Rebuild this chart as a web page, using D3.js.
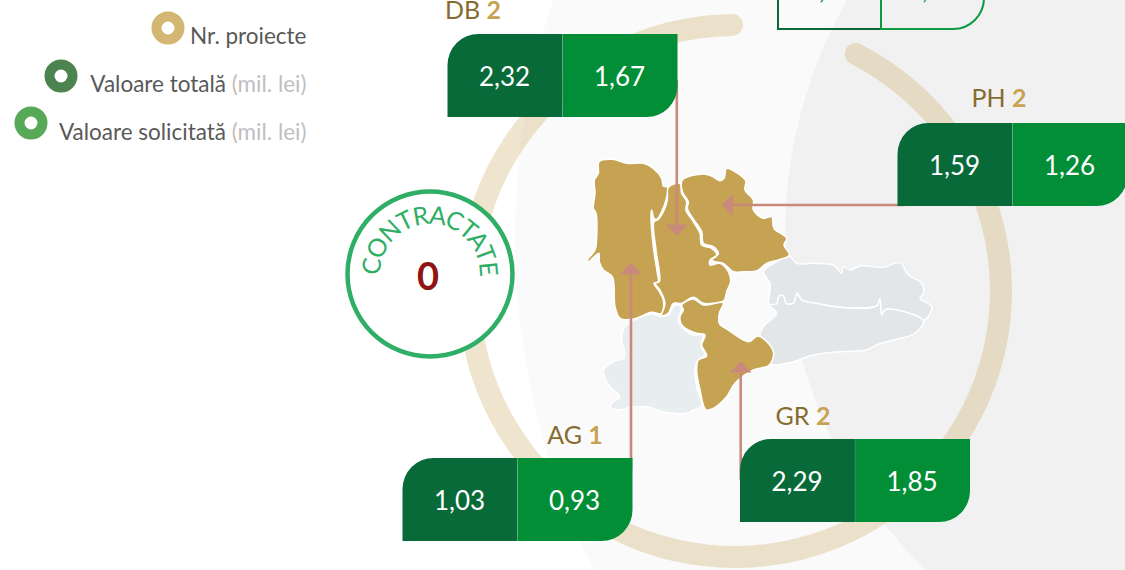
<!DOCTYPE html>
<html>
<head>
<meta charset="utf-8">
<script src="https://cdn.jsdelivr.net/npm/d3@7"></script>
<style>
  html, body { margin: 0; padding: 0; background: #fff; overflow: hidden; }
  text { font-family: Lato, "Open Sans", sans-serif; }
</style>
</head>
<body>
<div id="chart"></div>
<script>
// ************ Data ************
var counties = ['DB', 'PH', 'GR', 'AG'];
var nrProiecte = [2, 2, 2, 1];
var valoareTotala = [2.32, 1.59, 2.29, 1.03];
var valoareSolicitata = [1.67, 1.26, 1.85, 0.93];
var contractate = 0;

// the fifth box sits mostly above the picture, only its bottom edge is visible
var cutTotal = [4.17];
var cutSolicitata = [3.17];

var legendNames = ['Nr. proiecte', 'Valoare totală', 'Valoare solicitată'];
var legendUnits = ['', '(mil. lei)', '(mil. lei)'];

// county outlines, in map units
var outlineAG = [[57,35],[97,28],[140,40],[190,40],[220,55],[245,85],[250,108],[263,112],[258,150],[245,185],[230,208],[222,205],[215,180],[213,200],[220,290],[232,370],[235,395],[222,400],[235,420],[250,450],[245,490],[215,487],[160,507],[120,505],[105,470],[97,380],[70,360],[58,335],[57,310],[45,318],[25,335],[22,330],[45,300],[50,260],[48,190],[40,175],[45,130],[43,90],[55,70]];
var outlineDB = [[265,112],[300,100],[305,130],[320,155],[318,180],[340,215],[360,250],[365,285],[395,295],[410,315],[390,330],[390,345],[420,340],[445,365],[452,395],[440,425],[432,452],[395,460],[370,460],[340,442],[305,460],[280,460],[265,490],[245,497],[255,460],[240,420],[225,400],[238,395],[228,300],[222,215],[235,208],[250,185],[262,150]];
var outlinePH = [[307,90],[370,72],[395,78],[420,92],[432,85],[440,55],[470,68],[497,92],[495,120],[520,150],[520,180],[550,205],[575,200],[582,235],[620,265],[612,285],[628,315],[595,330],[560,340],[530,363],[490,365],[460,365],[430,340],[405,335],[395,330],[415,312],[400,290],[370,280],[365,245],[335,200],[322,175],[325,155],[307,125]];
var outlineGR = [[305,465],[340,447],[370,465],[430,458],[418,490],[418,520],[445,540],[505,575],[535,558],[580,605],[568,645],[520,660],[465,700],[440,740],[400,775],[378,780],[360,720],[350,660],[355,630],[380,618],[365,585],[375,555],[350,550],[325,540],[305,525],[300,500],[310,480]];
var outlineRestLeft = [[135,530],[160,512],[215,492],[245,500],[265,495],[285,465],[305,470],[295,510],[305,530],[340,555],[370,555],[362,585],[375,615],[355,630],[345,660],[350,710],[365,770],[340,780],[320,790],[250,785],[200,770],[160,770],[110,780],[90,770],[100,755],[120,740],[90,710],[70,660],[100,635],[130,625],[135,610],[125,570]];
// the white line between the two grey counties, left to right
var restBorder = [[568,465],[590,462],[597,438],[610,438],[618,460],[640,460],[652,430],[665,450],[720,462],[780,472],[890,468],[900,447],[905,495],[918,478],[1030,512]];
var outlineRestTop = [[550,365],[590,335],[630,320],[650,340],[700,340],[760,345],[785,370],[790,350],[810,360],[840,348],[910,352],[960,338],[985,375],[1025,400],[1030,430],[1020,445],[1055,470]].concat(restBorder.slice().reverse(), [[570,400],[560,385]]);
var outlineRestBottom = restBorder.concat([[1005,550],[940,570],[890,585],[860,600],[780,605],[700,615],[640,635],[580,645],[570,640],[580,605],[540,555],[550,530],[590,490]]);

// ************ Layout ************
var width = 1125, height = 570;
var boxW = 115, boxH = 83, corner = 31;

var boxLeft = [447.5, 897.5, 740, 402.5];
var boxTop = [34, 123, 439, 458];
var labelX = [473, 999, 803, 575];
var labelY = [19, 107, 425, 444];

var colGold = '#c6a352', colBrown = '#866c2f', colDark = '#086a39', colGreen = '#028e37', colArrow = '#c98a7c';

var svg = d3.select('#chart').append('svg')
            .attr('width', width)
            .attr('height', height)
            .style('display', 'block');

// ************ Background ************
svg.append('circle')
   .attr('cx', 1262).attr('cy', 236).attr('r', 747)
   .style('fill', '#fafafa');

svg.append('circle')
   .attr('cx', 1257).attr('cy', 234).attr('r', 472)
   .style('fill', '#f1f1f1');

var ring = d3.arc()
             .innerRadius(255)
             .outerRadius(277)
             .cornerRadius(11)
             .startAngle(0.43)
             .endAngle(2 * Math.PI + 0.03);

svg.append('path')
   .attr('d', ring())
   .attr('transform', 'translate(735,291)')
   .style('fill', colGold)
   .style('opacity', 0.28);

// ************ Map ************
var mapX = d3.scaleLinear().domain([0, 1080]).range([580, 940]);
var mapY = d3.scaleLinear().domain([0, 810]).range([150, 420]);

var outline = d3.line()
                .x(function(d) { return mapX(d[0]); })
                .y(function(d) { return mapY(d[1]); })
                .curve(d3.curveCatmullRomClosed.alpha(0.5));

var mapShapes = [
  { points: outlineRestLeft, fill: '#e8edf0' },
  { points: outlineRestTop, fill: '#e2e6e9' },
  { points: outlineRestBottom, fill: '#e2e6e9' },
  { points: outlineAG, fill: colGold },
  { points: outlineDB, fill: colGold },
  { points: outlinePH, fill: colGold },
  { points: outlineGR, fill: colGold }
];

svg.selectAll('path.county')
   .data(mapShapes)
   .enter().append('path')
   .attr('class', 'county')
   .attr('d', function(d) { return outline(d.points); })
   .style('fill', function(d) { return d.fill; })
   .style('stroke', '#fff')
   .style('stroke-width', 1.5);

// ************ Arrows ************
var arrowLine = d3.line();
function arrow(x1, y1, x2, y2) {
  var a = Math.atan2(y2 - y1, x2 - x1);
  var bx = x2 - 11.5 * Math.cos(a), by = y2 - 11.5 * Math.sin(a);
  var nx = -Math.sin(a) * 11, ny = Math.cos(a) * 11;
  svg.append('path')
     .attr('d', arrowLine([[x1, y1], [bx, by]]))
     .style('stroke', colArrow)
     .style('stroke-width', 2.6)
     .style('fill', 'none');
  svg.append('path')
     .attr('d', arrowLine([[x2, y2], [bx + nx, by + ny], [bx - nx, by - ny]]) + 'Z')
     .style('fill', colArrow);
}
arrow(676.8, 80, 676.8, 236);
arrow(905, 205, 721.7, 205);
arrow(740.7, 480, 740.7, 361);
arrow(631, 470, 631, 262.7);

// ************ Value boxes ************
function leftHalf(x, y) {
  return 'M' + x + ',' + (y + boxH) + 'V' + (y + corner) +
         'A' + corner + ',' + corner + ' 0 0 1 ' + (x + corner) + ',' + y +
         'H' + (x + boxW) + 'V' + (y + boxH) + 'Z';
}
function rightHalf(x, y) {
  return 'M' + x + ',' + y + 'H' + (x + boxW) + 'V' + (y + boxH - corner) +
         'A' + corner + ',' + corner + ' 0 0 1 ' + (x + boxW - corner) + ',' + (y + boxH) +
         'H' + x + 'Z';
}
var comma = function(v) { return d3.format('.2f')(v).replace('.', ','); };

counties.forEach(function(name, i) {
  var x = boxLeft[i], y = boxTop[i];
  svg.append('path').attr('d', leftHalf(x, y)).style('fill', colDark);
  svg.append('path').attr('d', rightHalf(x + boxW, y)).style('fill', colGreen);
  svg.append('line')
     .attr('x1', x + boxW).attr('x2', x + boxW)
     .attr('y1', y).attr('y2', y + boxH)
     .style('stroke', '#fff').style('stroke-opacity', 0.15).style('stroke-width', 1);

  svg.append('text')
     .attr('x', x + boxW / 2 - 0.5).attr('y', y + 52)
     .attr('text-anchor', 'middle')
     .style('font-size', '26px')
     .style('fill', '#fff')
     .text(comma(valoareTotala[i]));
  svg.append('text')
     .attr('x', x + boxW * 1.5 - 0.5).attr('y', y + 52)
     .attr('text-anchor', 'middle')
     .style('font-size', '26px')
     .style('fill', '#fff')
     .text(comma(valoareSolicitata[i]));

  var label = svg.append('text')
                 .attr('x', labelX[i]).attr('y', labelY[i])
                 .attr('text-anchor', 'middle')
                 .style('font-size', '25px');
  label.append('tspan').style('fill', colBrown).text(name + ' ');
  label.append('tspan').style('fill', colGold).style('font-weight', 700).text(nrProiecte[i]);
});

// outlined box cut by the top of the picture
var cutW = 103, cutLeft = 778, cutBottom = 29;
function outlinedLeft(x) {
  return 'M' + x + ',-10V' + cutBottom + 'H' + (x + cutW) + 'V-10';
}
function outlinedRight(x) {
  return 'M' + x + ',-10V' + cutBottom + 'H' + (x + cutW - corner) +
         'A' + corner + ',' + corner + ' 0 0 0 ' + (x + cutW) + ',' + (cutBottom - corner) + 'V-10';
}
svg.append('path').attr('d', outlinedLeft(cutLeft))
   .style('fill', 'none').style('stroke', colDark).style('stroke-width', 2);
svg.append('path').attr('d', outlinedRight(cutLeft + cutW))
   .style('fill', 'none').style('stroke', '#0c9a42').style('stroke-width', 2);
svg.append('text').attr('x', cutLeft + cutW / 2).attr('y', -1).attr('text-anchor', 'middle')
   .style('font-size', '26px').style('fill', colDark).text(comma(cutTotal[0]));
svg.append('text').attr('x', cutLeft + cutW * 1.5).attr('y', -1).attr('text-anchor', 'middle')
   .style('font-size', '26px').style('fill', '#0c9a42').text(comma(cutSolicitata[0]));

// ************ Contractate badge ************
var badge = svg.append('g').attr('transform', 'translate(430,274)');

badge.append('circle')
     .attr('r', 82.5)
     .style('fill', '#fff')
     .style('stroke', '#2fae66')
     .style('stroke-width', 4.5);

// longer than a half circle so the text is not cut at the ends
var badgeArc = d3.path();
badgeArc.arc(0, 0, 50, 0.75 * Math.PI, 2.25 * Math.PI);
badge.append('path').attr('id', 'badge-arc').attr('d', badgeArc.toString()).style('fill', 'none');

badge.append('text')
     .style('font-size', '25px')
     .style('letter-spacing', '-1.5px')
     .style('fill', '#2fae66')
     .append('textPath')
     .attr('href', '#badge-arc')
     .attr('startOffset', '50%')
     .attr('text-anchor', 'middle')
     .text('CONTRACTATE');

badge.append('text')
     .attr('x', -2).attr('y', 16)
     .attr('text-anchor', 'middle')
     .style('font-size', '38px')
     .style('font-weight', 700)
     .style('fill', '#8f1414')
     .text(contractate);

// ************ Legend ************
var legendColors = ['#d4b673', '#4c8450', '#57a857'];
var legendCx = [168, 61, 31];
var legendCy = [28, 76, 123];
var legendBase = [44, 92, 140];

legendNames.forEach(function(name, i) {
  svg.append('circle')
     .attr('cx', legendCx[i]).attr('cy', legendCy[i]).attr('r', 11.5)
     .style('fill', '#fff')
     .style('stroke', legendColors[i])
     .style('stroke-width', 10);
  var t = svg.append('text')
             .attr('x', 306.5).attr('y', legendBase[i])
             .attr('text-anchor', 'end')
             .style('font-size', '22.5px');
  t.append('tspan').style('fill', '#595959').text(name);
  if (legendUnits[i]) t.append('tspan').style('fill', '#bfbfbf').text(' ' + legendUnits[i]);
});
</script>
</body>
</html>
